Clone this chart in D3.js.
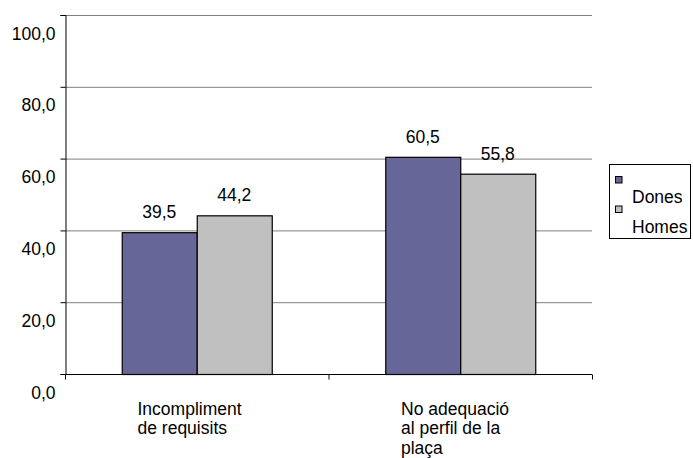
<!DOCTYPE html>
<html>
<head>
<meta charset="utf-8">
<script src="https://cdn.jsdelivr.net/npm/d3@7"></script>
<style>
  html, body { margin: 0; padding: 0; background: #fff; }
  svg text { font-family: Arial, "Liberation Sans", sans-serif; fill: #000; font-size: 17.5px; }
</style>
</head>
<body>
<svg id="chart" width="693" height="458"></svg>
<script>
// Data
const categories = [["Incompliment", "de requisits"], ["No adequació", "al perfil de la", "plaça"]];
const seriesNames = ["Dones", "Homes"];
const dones = [39.5, 60.5];
const homes = [44.2, 55.8];
const yTicks = [0, 20, 40, 60, 80, 100];
const colors = ["#666699", "#C0C0C0"];

const FONT = "Arial, 'Liberation Sans', sans-serif";
const FS = "17.5px";

const svg = d3.select("#chart");
const plot = { left: 65, right: 592, top: 15, bottom: 374 };

const x0 = d3.scaleBand()
  .domain(d3.range(categories.length))
  .range([plot.left, plot.right])
  .paddingInner(0).paddingOuter(0);

const x1 = d3.scaleBand()
  .domain(d3.range(seriesNames.length))
  .range([0, 150]);

const y = d3.scaleLinear().domain([0, 100]).range([plot.bottom, plot.top]);

const fmt = v => d3.format(".1f")(v).replace(".", ",");

// Gridlines
svg.append("g").selectAll("line")
  .data(yTicks.filter(d => d > 0))
  .join("line")
  .attr("x1", plot.left).attr("x2", plot.right)
  .attr("y1", d => y(d) + 0.5).attr("y2", d => y(d) + 0.5)
  .attr("stroke", "#808080").attr("stroke-width", 1);

// Y axis
const yAxis = d3.axisLeft(y).tickValues(yTicks).tickSize(5).tickFormat(fmt);
const gy = svg.append("g").attr("transform", `translate(${plot.left + 0.5},0)`).call(yAxis);
gy.attr("font-size", null).attr("font-family", null);
gy.select(".domain").attr("stroke", "#000");
gy.selectAll(".tick line").attr("stroke", "#000");
gy.selectAll(".tick text")
  .attr("x", -10).attr("y", 24).attr("dy", null)
  .style("font-size", FS).style("font-family", FONT);

// Bars
const data = categories.map((c, i) => ({ i, values: [dones[i], homes[i]] }));
const groups = svg.append("g").selectAll("g")
  .data(data).join("g")
  .attr("transform", d => `translate(${x0(d.i) + (x0.bandwidth() - 150) / 2},0)`);

groups.selectAll("rect")
  .data(d => d.values.map((v, s) => ({ v, s })))
  .join("rect")
  .attr("x", d => x1(d.s) + 0.5)
  .attr("y", d => y(d.v) + 0.5)
  .attr("width", x1.bandwidth())
  .attr("height", d => y(0) - y(d.v))
  .attr("fill", d => colors[d.s])
  .attr("stroke", "#000").attr("stroke-width", 1.2);

groups.selectAll("text.val")
  .data(d => d.values.map((v, s) => ({ v, s })))
  .join("text")
  .attr("class", "val")
  .attr("x", d => x1(d.s) + x1.bandwidth() / 2)
  .attr("y", d => y(d.v) - 14)
  .attr("text-anchor", "middle")
  .text(d => fmt(d.v));

// X axis
const xAxisG = svg.append("g").attr("transform", `translate(0,${plot.bottom + 0.5})`);
xAxisG.append("line").attr("x1", plot.left).attr("x2", plot.right).attr("stroke", "#000");
xAxisG.selectAll("line.tick")
  .data([0, 1, 2]).join("line").attr("class", "tick")
  .attr("x1", d => plot.left + d * x0.bandwidth() + 0.5)
  .attr("x2", d => plot.left + d * x0.bandwidth() + 0.5)
  .attr("y1", 0).attr("y2", 5).attr("stroke", "#000");

// Category labels
svg.append("g").selectAll("text")
  .data(categories).join("text")
  .attr("x", (d, i) => x0(i) + 72.5)
  .attr("y", 414.5)
  .selectAll("tspan").data(d => d).join("tspan")
  .attr("x", function() { return d3.select(this.parentNode).attr("x"); })
  .attr("dy", (d, j) => j === 0 ? 0 : 19.5)
  .text(d => d);

// Legend
const lg = svg.append("g");
lg.append("rect").attr("x", 609.5).attr("y", 164.5).attr("width", 81).attr("height", 74)
  .attr("fill", "#fff").attr("stroke", "#000");
seriesNames.forEach((name, i) => {
  lg.append("rect").attr("x", 615.5).attr("y", 176.5 + i * 29.5).attr("width", 6.5).attr("height", 6.5)
    .attr("fill", colors[i]).attr("stroke", "#000");
  lg.append("text").attr("x", 632).attr("y", 203 + i * 29.5).text(name);
});
</script>
</body>
</html>
